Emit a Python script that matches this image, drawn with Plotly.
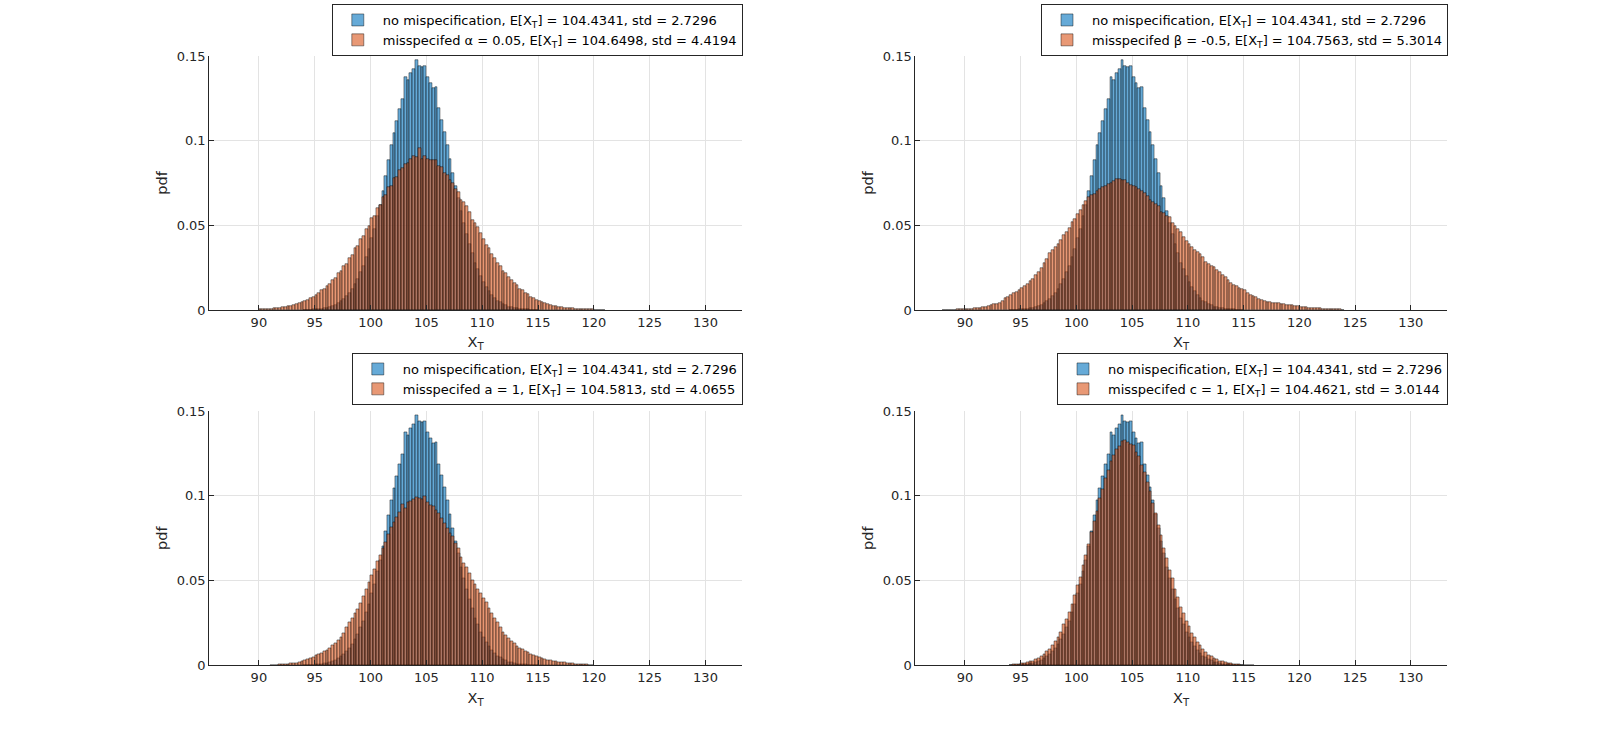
import numpy as np
import plotly.graph_objects as go

# ---------------- data (pdf per bin, bins of width BIN_WIDTH) ----------------
BIN_WIDTH = 0.25

BASE_LABEL = "no mispecification, E[X<sub>T</sub>] = 104.4341, std = 2.7296"
BASE_START = 94.0
BASE_PDF = [
    0.0001, 0.0002, 0.0002, 0.0003,
    0.0004, 0.0006, 0.0008, 0.0011,
    0.0014, 0.0019, 0.0025, 0.0031,
    0.0041, 0.0051, 0.0066, 0.0081,
    0.0103, 0.0124, 0.0154, 0.0182,
    0.0224, 0.0260, 0.0314, 0.0358,
    0.0426, 0.0480, 0.0558, 0.0620,
    0.0705, 0.0790, 0.0885, 0.0975,
    0.1045, 0.1115, 0.1185, 0.1244,
    0.1374, 0.1360, 0.1400, 0.1426,
    0.1476, 0.1440, 0.1433, 0.1440,
    0.1374, 0.1340, 0.1310, 0.1315,
    0.1190, 0.1125, 0.1050, 0.0972,
    0.0892, 0.0812, 0.0735, 0.0660,
    0.0582, 0.0515, 0.0447, 0.0390,
    0.0335, 0.0280, 0.0242, 0.0198,
    0.0168, 0.0134, 0.0112, 0.0089,
    0.0073, 0.0056, 0.0046, 0.0034,
    0.0028, 0.0020, 0.0016, 0.0012,
    0.0009, 0.0007, 0.0005, 0.0004,
    0.0003, 0.0002, 0.0002, 0.0001,
]

ALPHA_LABEL = "misspecifed α = 0.05, E[X<sub>T</sub>] = 104.6498, std = 4.4194"
ALPHA_START = 90.0
ALPHA_PDF = [
    0.0003, 0.0004, 0.0005, 0.0006, 0.0008, 0.0009, 0.0012, 0.0013,
    0.0017, 0.0018, 0.0023, 0.0025, 0.0031, 0.0034, 0.0041, 0.0045,
    0.0054, 0.0059, 0.0071, 0.0076, 0.0091, 0.0098, 0.0116, 0.0123,
    0.0143, 0.0154, 0.0178, 0.0188, 0.0216, 0.0229, 0.0260, 0.0272,
    0.0310, 0.0323, 0.0364, 0.0378, 0.0420, 0.0436, 0.0481, 0.0495,
    0.0545, 0.0558, 0.0605, 0.0620, 0.0668, 0.0680, 0.0725, 0.0735,
    0.0778, 0.0786, 0.0824, 0.0838, 0.0862, 0.0868, 0.0891, 0.0912,
    0.0905, 0.0955, 0.0892, 0.0908, 0.0889, 0.0886, 0.0884, 0.0887,
    0.0850, 0.0842, 0.0810, 0.0798, 0.0765, 0.0752, 0.0712, 0.0697,
    0.0650, 0.0638, 0.0612, 0.0576, 0.0531, 0.0515, 0.0490, 0.0452,
    0.0421, 0.0384, 0.0366, 0.0330, 0.0310, 0.0279, 0.0262, 0.0233,
    0.0218, 0.0192, 0.0179, 0.0157, 0.0146, 0.0126, 0.0117, 0.0100,
    0.0092, 0.0079, 0.0072, 0.0061, 0.0056, 0.0047, 0.0042, 0.0035,
    0.0031, 0.0026, 0.0023, 0.0019, 0.0017, 0.0014, 0.0012, 0.0010,
    0.0009, 0.0007, 0.0006, 0.0005, 0.0004, 0.0004, 0.0003, 0.0003,
    0.0002, 0.0002, 0.0001, 0.0001,
]

BETA_LABEL = "misspecifed β = -0.5, E[X<sub>T</sub>] = 104.7563, std = 5.3014"
BETA_START = 88.0
BETA_PDF = [
    0.0001, 0.0001, 0.0001, 0.0002,
    0.0002, 0.0003, 0.0003, 0.0004,
    0.0004, 0.0006, 0.0007, 0.0009,
    0.0010, 0.0013, 0.0016, 0.0019,
    0.0022, 0.0027, 0.0033, 0.0038,
    0.0043, 0.0052, 0.0068, 0.0079,
    0.0087, 0.0098, 0.0108, 0.0120,
    0.0128, 0.0140, 0.0152, 0.0172,
    0.0185, 0.0205, 0.0226, 0.0248,
    0.0275, 0.0300, 0.0338, 0.0354,
    0.0370, 0.0390, 0.0412, 0.0440,
    0.0460, 0.0487, 0.0520, 0.0540,
    0.0565, 0.0590, 0.0620, 0.0645,
    0.0665, 0.0680, 0.0688, 0.0705,
    0.0715, 0.0724, 0.0730, 0.0742,
    0.0752, 0.0762, 0.0774, 0.0772,
    0.0770, 0.0766, 0.0748, 0.0738,
    0.0735, 0.0725, 0.0716, 0.0702,
    0.0689, 0.0672, 0.0650, 0.0640,
    0.0625, 0.0612, 0.0580, 0.0570,
    0.0556, 0.0549, 0.0515, 0.0498,
    0.0478, 0.0460, 0.0432, 0.0410,
    0.0392, 0.0372, 0.0354, 0.0340,
    0.0328, 0.0315, 0.0282, 0.0274,
    0.0262, 0.0254, 0.0236, 0.0224,
    0.0208, 0.0192, 0.0177, 0.0162,
    0.0150, 0.0140, 0.0131, 0.0122,
    0.0116, 0.0102, 0.0091, 0.0081,
    0.0074, 0.0066, 0.0058, 0.0054,
    0.0050, 0.0046, 0.0043, 0.0040,
    0.0039, 0.0036, 0.0034, 0.0032,
    0.0031, 0.0028, 0.0024, 0.0021,
    0.0020, 0.0017, 0.0015, 0.0013,
    0.0012, 0.0011, 0.0010, 0.0009,
    0.0008, 0.0007, 0.0006, 0.0005,
    0.0004, 0.0003, 0.0003, 0.0002,
]

A_LABEL = "misspecifed a = 1, E[X<sub>T</sub>] = 104.5813, std = 4.0655"
A_START = 91.0
A_PDF = [
    0.0002, 0.0003, 0.0003, 0.0004,
    0.0005, 0.0006, 0.0008, 0.0010,
    0.0012, 0.0015, 0.0019, 0.0023,
    0.0028, 0.0034, 0.0042, 0.0050,
    0.0057, 0.0064, 0.0072, 0.0082,
    0.0090, 0.0102, 0.0116, 0.0130,
    0.0146, 0.0168, 0.0190, 0.0222,
    0.0255, 0.0280, 0.0310, 0.0330,
    0.0365, 0.0405, 0.0448, 0.0490,
    0.0530, 0.0565, 0.0612, 0.0650,
    0.0690, 0.0725, 0.0772, 0.0818,
    0.0845, 0.0872, 0.0903, 0.0950,
    0.0925, 0.0962, 0.0968, 0.0978,
    0.0992, 0.0987, 0.0982, 0.0996,
    0.0965, 0.0946, 0.0937, 0.0918,
    0.0895, 0.0866, 0.0840, 0.0812,
    0.0780, 0.0760, 0.0722, 0.0690,
    0.0640, 0.0605, 0.0582, 0.0545,
    0.0505, 0.0478, 0.0452, 0.0425,
    0.0398, 0.0370, 0.0335, 0.0305,
    0.0280, 0.0252, 0.0222, 0.0198,
    0.0176, 0.0160, 0.0142, 0.0128,
    0.0114, 0.0103, 0.0094, 0.0084,
    0.0075, 0.0066, 0.0060, 0.0053,
    0.0047, 0.0042, 0.0038, 0.0033,
    0.0030, 0.0027, 0.0024, 0.0021,
    0.0019, 0.0017, 0.0015, 0.0013,
    0.0011, 0.0009, 0.0008, 0.0007,
    0.0005, 0.0004, 0.0003, 0.0002,
]

C_LABEL = "misspecifed c = 1, E[X<sub>T</sub>] = 104.4621, std = 3.0144"
C_START = 94.0
C_PDF = [
    0.0003, 0.0004, 0.0006, 0.0007,
    0.0010, 0.0013, 0.0017, 0.0022,
    0.0027, 0.0035, 0.0043, 0.0056,
    0.0066, 0.0082, 0.0098, 0.0118,
    0.0141, 0.0168, 0.0198, 0.0240,
    0.0272, 0.0315, 0.0362, 0.0412,
    0.0473, 0.0522, 0.0590, 0.0648,
    0.0715, 0.0785, 0.0852, 0.0910,
    0.0985, 0.1038, 0.1102, 0.1150,
    0.1205, 0.1238, 0.1278, 0.1292,
    0.1320, 0.1330, 0.1318, 0.1305,
    0.1298, 0.1260, 0.1232, 0.1180,
    0.1140, 0.1078, 0.1028, 0.0956,
    0.0899, 0.0825, 0.0768, 0.0690,
    0.0635, 0.0562, 0.0512, 0.0448,
    0.0402, 0.0345, 0.0306, 0.0259,
    0.0228, 0.0189, 0.0165, 0.0134,
    0.0116, 0.0093, 0.0079, 0.0062,
    0.0053, 0.0041, 0.0035, 0.0026,
    0.0022, 0.0016, 0.0013, 0.0010,
    0.0008, 0.0006, 0.0004, 0.0003,
    0.0002, 0.0002, 0.0001, 0.0001,
]

X_TICKS = [90, 95, 100, 105, 110, 115, 120, 125, 130]
Y_TICKS = [0, 0.05, 0.1, 0.15]
Y_TICKTEXT = ["0", "0.05", "0.1", "0.15"]
X_TITLE = "X<sub>T</sub>"
Y_TITLE = "pdf"

PANELS = [
    (ALPHA_START, ALPHA_PDF, ALPHA_LABEL),
    (BETA_START, BETA_PDF, BETA_LABEL),
    (A_START, A_PDF, A_LABEL),
    (C_START, C_PDF, C_LABEL),
]

# ---------------- styling ----------------
FONT = "DejaVu Sans"
INK = "#262626"
BLUE_FILL = "rgba(0,114,189,0.6)"
ORANGE_FILL = "rgba(217,83,25,0.6)"
EDGE = "rgba(0,0,0,0.85)"
GRID = "#e3e3e3"

W, H = 1600, 748
X_DOMS = [(209.2 / W, 741.8 / W), (915.3 / W, 1447.0 / W)]
Y_DOMS = [(1 - 310.0 / H, 1 - 56.0 / H), (1 - 665.3 / H, 1 - 411.2 / H)]
X_RANGE = [85.55, 133.25]


def centers(start, n):
    return start + BIN_WIDTH * (np.arange(n) + 0.5)


fig = go.Figure()
layout = dict(
    width=W, height=H,
    margin=dict(l=0, r=0, t=0, b=0, autoexpand=False),
    paper_bgcolor="white", plot_bgcolor="white",
    barmode="overlay", bargap=0,
    font=dict(family=FONT, size=13, color=INK),
    showlegend=True,
)

for k, (start, pdf, label) in enumerate(PANELS):
    row, col = divmod(k, 2)
    sfx = "" if k == 0 else str(k + 1)
    xa, ya = "x" + sfx, "y" + sfx
    leg = "legend" + sfx

    fig.add_trace(go.Bar(
        x=centers(BASE_START, len(BASE_PDF)), y=BASE_PDF, width=BIN_WIDTH,
        name=BASE_LABEL, xaxis=xa, yaxis=ya, legend=leg,
        marker=dict(color=BLUE_FILL, line=dict(color=EDGE, width=0.5)),
    ))
    fig.add_trace(go.Bar(
        x=centers(start, len(pdf)), y=pdf, width=BIN_WIDTH,
        name=label, xaxis=xa, yaxis=ya, legend=leg,
        marker=dict(color=ORANGE_FILL, line=dict(color=EDGE, width=0.5)),
    ))

    axis_common = dict(
        showgrid=True, gridcolor=GRID, gridwidth=1,
        showline=True, linecolor=INK, linewidth=1,
        ticks="inside", ticklen=5, tickcolor=INK, tickwidth=1,
        tickfont=dict(family=FONT, size=13, color=INK),
        zeroline=False, mirror=False, automargin=False,
    )
    layout["xaxis" + sfx] = dict(
        axis_common, domain=X_DOMS[col], anchor=ya, range=X_RANGE,
        tickmode="array", tickvals=X_TICKS,
        title=dict(text=X_TITLE, font=dict(size=14.5, color=INK), standoff=8),
    )
    layout["yaxis" + sfx] = dict(
        axis_common, domain=Y_DOMS[row], anchor=xa, range=[0, 0.15],
        tickmode="array", tickvals=Y_TICKS, ticktext=Y_TICKTEXT,
        title=dict(text=Y_TITLE, font=dict(size=14.5, color=INK), standoff=5),
    )

    x_right = X_DOMS[col][1] + 1.0 / W
    if row == 0:
        ly = 1 - 4.0 / H
    else:
        ly = 1 - 353.0 / H
    layout[leg] = dict(
        x=x_right, xanchor="right", y=ly, yanchor="top",
        bgcolor="white", bordercolor=INK, borderwidth=1,
        font=dict(family=FONT, size=13, color="black"),
        itemwidth=40, tracegroupgap=0,
    )

fig.update_layout(**layout)
fig.write_html("out.html")
